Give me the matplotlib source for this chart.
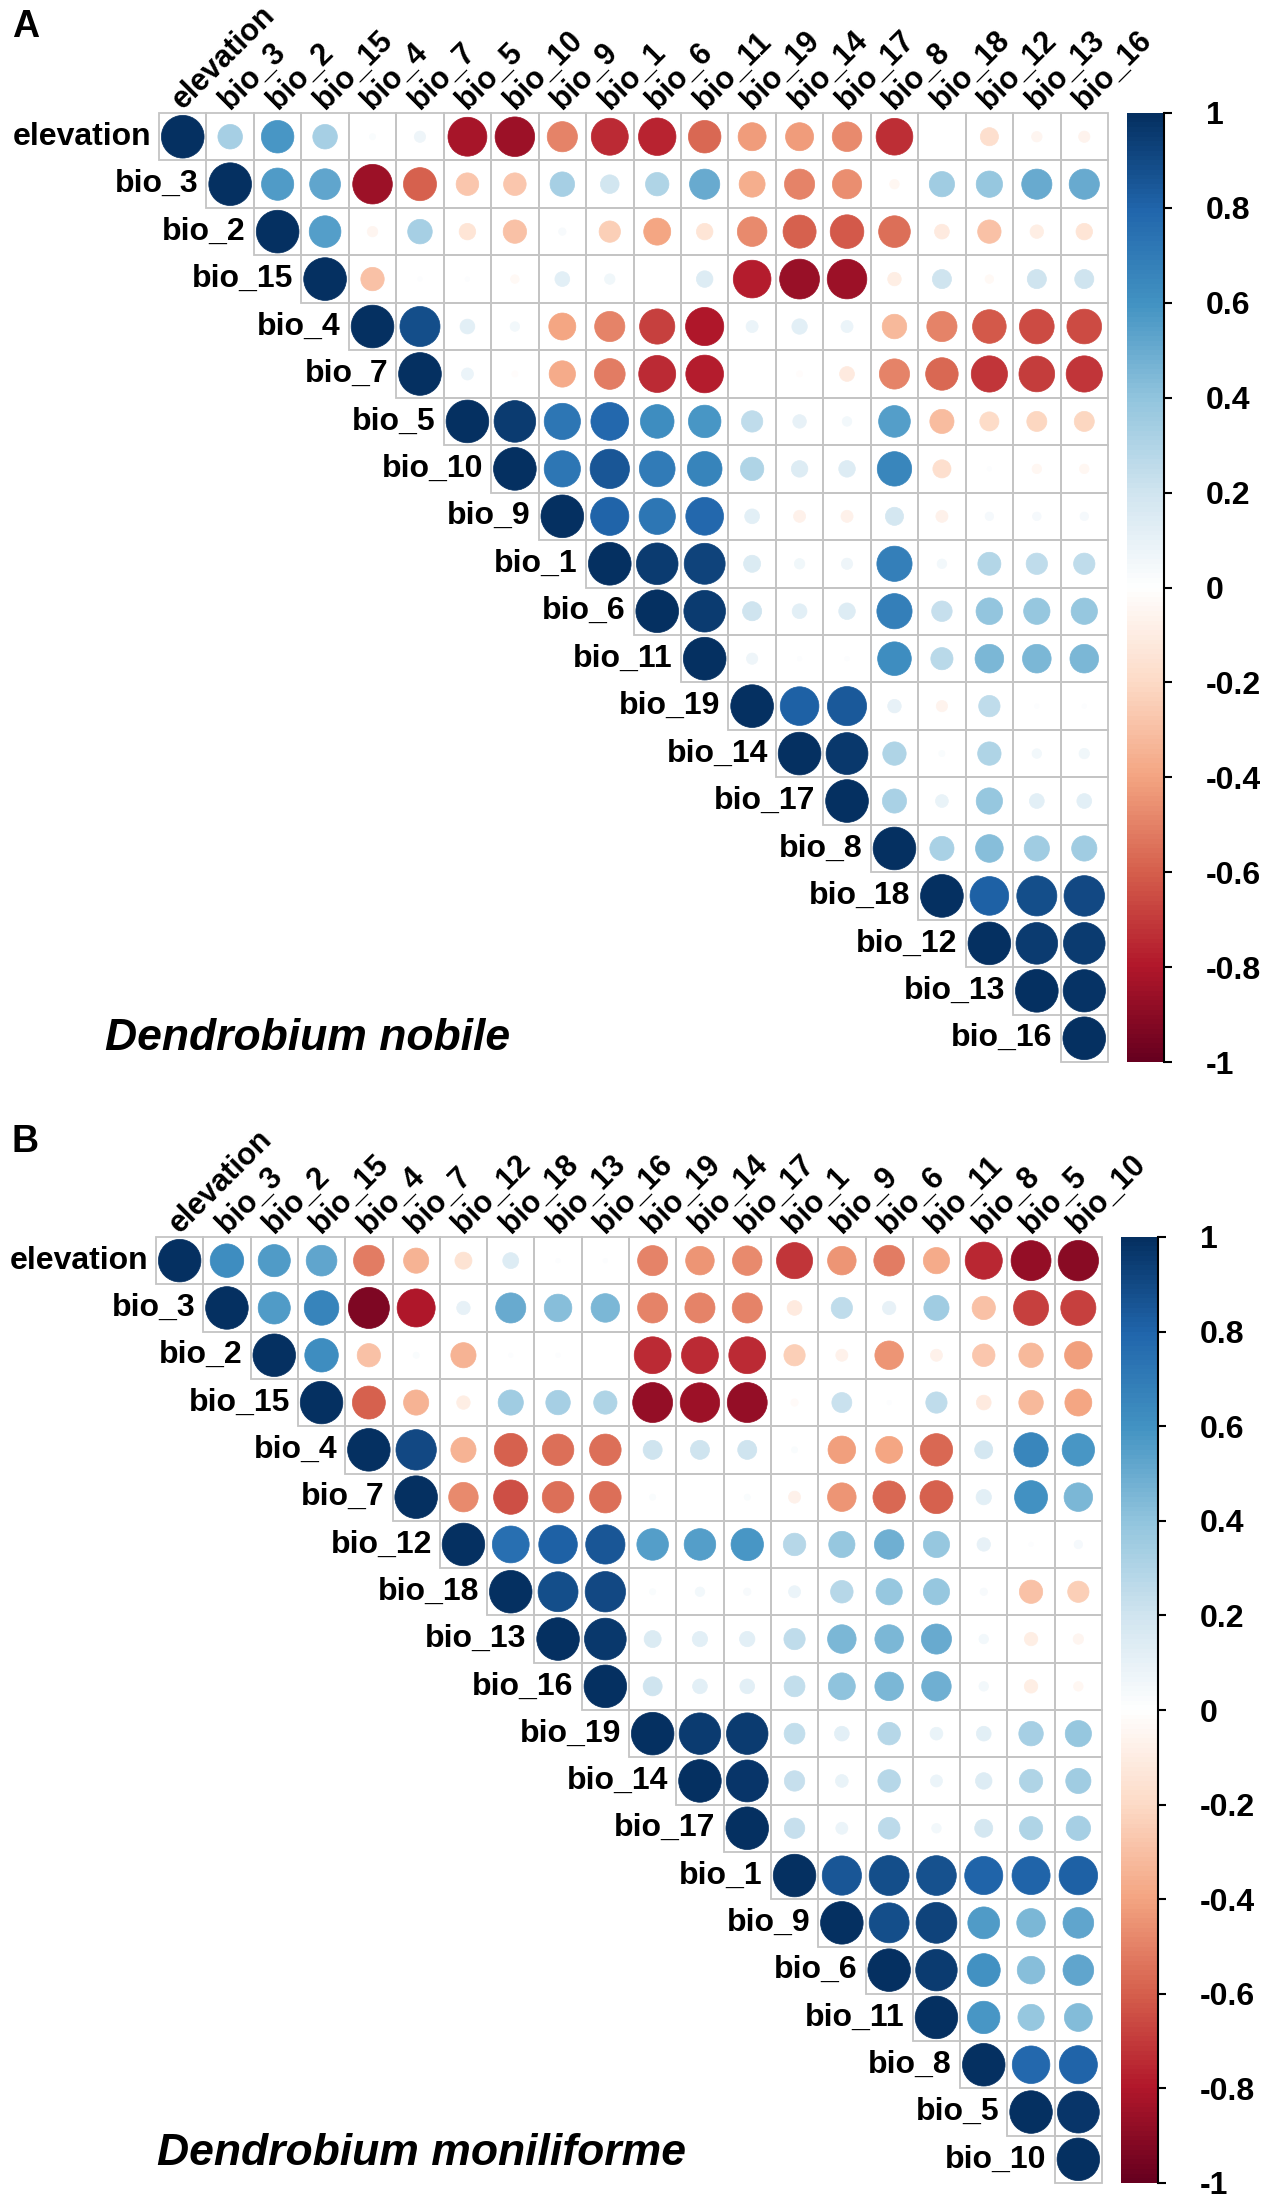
import numpy as np
import matplotlib
matplotlib.use("Agg")
import matplotlib.pyplot as plt
from matplotlib.colors import LinearSegmentedColormap, Normalize
from matplotlib.patches import Rectangle, Circle

# variable order of panel A (Dendrobium nobile)
vars_a = ["elevation", "bio_3", "bio_2", "bio_15", "bio_4", "bio_7", "bio_5", "bio_10",
          "bio_9", "bio_1", "bio_6", "bio_11", "bio_19", "bio_14", "bio_17", "bio_8",
          "bio_18", "bio_12", "bio_13", "bio_16"]

# upper triangle, row i holds columns i..19
corr_a = [
    [1, 0.33, 0.58, 0.33, 0.02, 0.07, -0.83, -0.86, -0.5, -0.75, -0.77, -0.58, -0.43, -0.43, -0.48, -0.74, 0.0, -0.18, -0.06, -0.07],
    [1, 0.57, 0.52, -0.86, -0.6, -0.28, -0.28, 0.33, 0.19, 0.3, 0.5, -0.37, -0.5, -0.47, -0.05, 0.35, 0.38, 0.5, 0.5],
    [1, 0.55, -0.06, 0.33, -0.15, -0.3, 0.03, -0.25, -0.4, -0.15, -0.48, -0.6, -0.62, -0.55, -0.12, -0.3, -0.1, -0.15],
    [1, -0.3, 0.01, 0.01, -0.04, 0.12, 0.06, 0.0, 0.15, -0.78, -0.87, -0.86, -0.1, 0.2, -0.04, 0.2, 0.2],
    [1, 0.88, 0.12, 0.05, -0.4, -0.5, -0.68, -0.8, 0.08, 0.13, 0.08, -0.33, -0.5, -0.62, -0.66, -0.66],
    [1, 0.08, -0.02, -0.38, -0.52, -0.75, -0.78, 0.0, -0.02, -0.12, -0.5, -0.58, -0.72, -0.7, -0.72],
    [1, 0.95, 0.72, 0.78, 0.62, 0.58, 0.25, 0.1, 0.05, 0.55, -0.32, -0.2, -0.22, -0.22],
    [1, 0.72, 0.85, 0.7, 0.66, 0.3, 0.15, 0.15, 0.65, -0.18, 0.01, -0.05, -0.05],
    [1, 0.8, 0.72, 0.78, 0.12, -0.08, -0.08, 0.18, -0.08, 0.04, 0.04, 0.04],
    [1, 0.95, 0.92, 0.16, 0.06, 0.07, 0.68, 0.05, 0.29, 0.25, 0.25],
    [1, 0.95, 0.2, 0.12, 0.15, 0.68, 0.23, 0.39, 0.38, 0.38],
    [1, 0.07, 0.01, 0.01, 0.62, 0.27, 0.45, 0.45, 0.45],
    [1, 0.82, 0.84, 0.1, -0.07, 0.25, 0.01, 0.01],
    [1, 0.96, 0.3, 0.02, 0.3, 0.05, 0.06],
    [1, 0.32, 0.09, 0.38, 0.12, 0.12],
    [1, 0.32, 0.42, 0.35, 0.35],
    [1, 0.82, 0.88, 0.9],
    [1, 0.95, 0.95],
    [1, 0.98],
    [1],
]

# variable order of panel B (Dendrobium moniliforme)
vars_b = ["elevation", "bio_3", "bio_2", "bio_15", "bio_4", "bio_7", "bio_12", "bio_18",
          "bio_13", "bio_16", "bio_19", "bio_14", "bio_17", "bio_1", "bio_9", "bio_6",
          "bio_11", "bio_8", "bio_5", "bio_10"]

corr_b = [
    [1, 0.62, 0.57, 0.52, -0.52, -0.35, -0.16, 0.14, 0.01, 0.01, -0.5, -0.45, -0.48, -0.72, -0.45, -0.52, -0.38, -0.76, -0.88, -0.9],
    [1, 0.57, 0.66, -0.93, -0.8, 0.1, 0.5, 0.42, 0.45, -0.5, -0.5, -0.5, -0.12, 0.25, 0.1, 0.35, -0.3, -0.68, -0.68],
    [1, 0.62, -0.3, 0.02, -0.35, 0.01, 0.01, 0.0, -0.75, -0.75, -0.75, -0.25, -0.08, -0.45, -0.08, -0.28, -0.33, -0.42],
    [1, -0.6, -0.35, -0.1, 0.35, 0.33, 0.3, -0.88, -0.86, -0.88, -0.03, 0.22, 0.01, 0.25, -0.12, -0.33, -0.4],
    [1, 0.9, -0.35, -0.6, -0.55, -0.55, 0.2, 0.2, 0.2, 0.02, -0.42, -0.4, -0.58, 0.18, 0.65, 0.58],
    [1, -0.48, -0.65, -0.55, -0.55, 0.02, 0.0, 0.02, -0.08, -0.45, -0.58, -0.6, 0.13, 0.6, 0.45],
    [1, 0.75, 0.82, 0.85, 0.55, 0.55, 0.58, 0.28, 0.38, 0.48, 0.38, 0.1, 0.01, 0.04],
    [1, 0.88, 0.9, 0.02, 0.05, 0.03, 0.08, 0.28, 0.38, 0.38, 0.03, -0.3, -0.25],
    [1, 0.96, 0.16, 0.13, 0.13, 0.25, 0.45, 0.45, 0.5, 0.05, -0.1, -0.06],
    [1, 0.2, 0.12, 0.12, 0.24, 0.4, 0.45, 0.48, 0.05, -0.1, -0.05],
    [1, 0.95, 0.95, 0.24, 0.12, 0.28, 0.09, 0.12, 0.33, 0.38],
    [1, 0.97, 0.23, 0.09, 0.28, 0.08, 0.15, 0.3, 0.35],
    [1, 0.23, 0.08, 0.26, 0.05, 0.18, 0.3, 0.33],
    [1, 0.85, 0.88, 0.87, 0.8, 0.8, 0.82],
    [1, 0.88, 0.92, 0.56, 0.45, 0.52],
    [1, 0.95, 0.6, 0.42, 0.52],
    [1, 0.58, 0.38, 0.43],
    [1, 0.78, 0.8],
    [1, 0.97],
    [1],
]

cbar_ticks = [1, 0.8, 0.6, 0.4, 0.2, 0, -0.2, -0.4, -0.6, -0.8, -1]

# RdBu palette as used by corrplot
rdbu = ["#67001F", "#B2182B", "#D6604D", "#F4A582", "#FDDBC7", "#FFFFFF",
        "#D1E5F0", "#92C5DE", "#4393C3", "#2166AC", "#053061"]
cmap = LinearSegmentedColormap.from_list("corr", rdbu, N=200)
norm = Normalize(-1, 1)

W, H = 1268, 2202
FONT = "Liberation Sans"
LAB = 23
COLLAB = 22

fig = plt.figure(figsize=(W / 100, H / 100), dpi=100)


def px_box(left, top, w, h):
    return [left / W, 1 - (top + h) / H, w / W, h / H]


def corr_panel(names, rows, left, top, size, cbar_left):
    n = len(names)
    ax = fig.add_axes(px_box(left, top, size, size))
    ax.set_xlim(0, n)
    ax.set_ylim(n, 0)
    ax.axis("off")
    for i, row in enumerate(rows):
        for k, r in enumerate(row):
            j = i + k
            ax.add_patch(Rectangle((j, i), 1, 1, fill=False, edgecolor="#c4c4c4",
                                   lw=1.3, clip_on=False))
            c = cmap(norm(r))
            ax.add_patch(Circle((j + 0.5, i + 0.5), 0.45 * np.sqrt(abs(r)),
                                facecolor=c, edgecolor=c, lw=0.5, clip_on=False))
    for i, name in enumerate(names):
        ax.text(i - 0.17, i + 0.5, name, ha="right", va="center", fontsize=LAB,
                fontweight="bold", family=FONT)
        ax.text(i + 0.5, -0.07, name, ha="left", va="baseline", rotation=45,
                rotation_mode="anchor", fontsize=COLLAB, fontweight="bold", family=FONT)

    # colour legend
    cax = fig.add_axes(px_box(cbar_left, top, 37, size))
    grad = np.linspace(-1, 1, 200)[:, None]
    cax.imshow(grad, cmap=cmap, norm=norm, aspect="auto", origin="lower",
               extent=[0, 1, -1, 1])
    cax.set_xticks([])
    cax.yaxis.tick_right()
    cax.set_yticks(cbar_ticks)
    cax.set_yticklabels([f"{t:g}" for t in cbar_ticks], fontsize=LAB,
                        fontweight="bold", family=FONT)
    cax.tick_params(axis="y", length=6, width=1.5, pad=24)
    for s in ["left", "top", "bottom"]:
        cax.spines[s].set_visible(False)
    cax.spines["right"].set_linewidth(1.5)
    return ax


corr_panel(vars_a, corr_a, 159, 113, 949, 1127)
corr_panel(vars_b, corr_b, 156, 1237, 946, 1121)

fig.text(12 / W, 1 - 37 / H, "A", fontsize=27, fontweight="bold", family=FONT,
         ha="left", va="baseline")
fig.text(11 / W, 1 - 1152 / H, "B", fontsize=27, fontweight="bold", family=FONT,
         ha="left", va="baseline")
fig.text(105 / W, 1 - 1050 / H, "Dendrobium nobile", fontsize=32, fontweight="bold",
         fontstyle="italic", family=FONT, ha="left", va="baseline")
fig.text(157 / W, 1 - 2165 / H, "Dendrobium moniliforme", fontsize=32,
         fontweight="bold", fontstyle="italic", family=FONT, ha="left", va="baseline")

fig.savefig("out.png", dpi=100, facecolor="white")
